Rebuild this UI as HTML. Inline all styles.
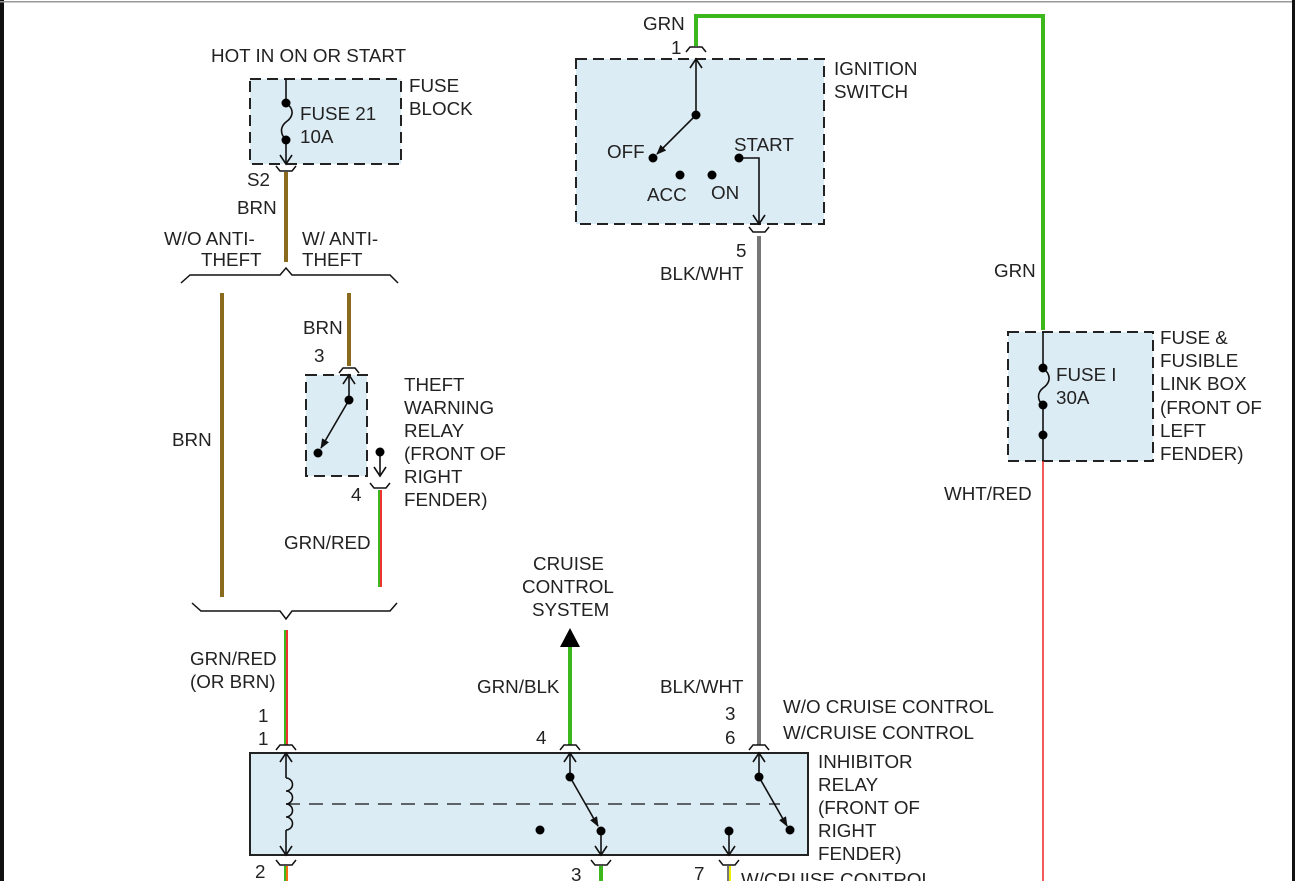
<!DOCTYPE html>
<html><head><meta charset="utf-8"><style>
html,body{margin:0;padding:0;background:#fff;width:1295px;height:881px;overflow:hidden}
svg{display:block}
text{font-family:"Liberation Sans",Arial,sans-serif;font-size:18.8px;fill:#222}
</style></head><body>
<svg width="1295" height="881" viewBox="0 0 1295 881">
<defs>
<marker id="ah" markerWidth="10" markerHeight="10" refX="9" refY="5" orient="auto" markerUnits="userSpaceOnUse"><path d="M0,1 L10,5 L0,9 Z" fill="#111"/></marker>
</defs>
<rect x="0" y="0" width="4" height="881" fill="#111"/>
<rect x="0" y="1" width="1295" height="1.5" fill="#999"/>
<rect x="1292" y="0" width="3" height="881" fill="#111"/>

<g fill="#dcecf4" stroke="#222" stroke-width="2" stroke-dasharray="11,6">
<rect x="250" y="79" width="151" height="85"/>
<rect x="576" y="59" width="248" height="165"/>
<rect x="306" y="375" width="61" height="101"/>
<rect x="1008" y="332" width="145" height="129"/>
</g>
<rect x="250" y="753" width="558" height="102" fill="#dcecf4" stroke="#222" stroke-width="2"/>

<g fill="none" stroke-width="4">
<line x1="286" y1="172" x2="286" y2="262" stroke="#8a6a1c"/>
<line x1="222" y1="293" x2="222" y2="597" stroke="#8a6a1c"/>
<line x1="349" y1="293" x2="349" y2="366" stroke="#8a6a1c"/>
<polyline points="696,46 696,16 1043,16 1043,330" stroke="#3cb81c"/>
<line x1="759" y1="236" x2="759" y2="745" stroke="#777"/>
<line x1="570" y1="645" x2="570" y2="745" stroke="#3cb81c"/>
<line x1="601" y1="866" x2="601" y2="881" stroke="#3cb81c"/>
</g>
<g stroke-width="2">
<line x1="379" y1="490" x2="379" y2="587" stroke="#3cb81c"/>
<line x1="381" y1="490" x2="381" y2="587" stroke="#e33"/>
<line x1="285" y1="630" x2="285" y2="745" stroke="#3cb81c"/>
<line x1="287" y1="630" x2="287" y2="745" stroke="#e33"/>
<line x1="285" y1="866" x2="285" y2="881" stroke="#3cb81c"/>
<line x1="287" y1="866" x2="287" y2="881" stroke="#f07010"/>
<line x1="728" y1="866" x2="728" y2="881" stroke="#777"/>
<line x1="730" y1="866" x2="730" y2="881" stroke="#ee0"/>
</g>
<line x1="1043" y1="461" x2="1043" y2="881" stroke="#e22" stroke-width="1.5"/>

<g fill="none" stroke="#111" stroke-width="1.5">
<polyline points="181,283 190,275 280,275 286,268 292,275 390,275 398,283"/>
<polyline points="192,603 201,611 280,611 286,619 292,611 390,611 397,603"/>
</g>

<g stroke="#111" stroke-width="1.6" fill="none">
<line x1="286" y1="79" x2="286" y2="103"/>
<path d="M286,103 C296,110 292,118 286,122 C280,127 280,134 286,140"/>
<line x1="286" y1="140" x2="286" y2="164"/>
<polyline points="280,155 286,164 292,155"/>
<line x1="696" y1="59" x2="696" y2="115"/>
<polyline points="690,68 696,59 702,68"/>
<line x1="696" y1="115" x2="657" y2="154" marker-end="url(#ah)"/>
<polyline points="739,158 759,158 759,224"/>
<polyline points="753,215 759,224 765,215"/>
<line x1="349" y1="375" x2="349" y2="400"/>
<polyline points="343,384 349,375 355,384"/>
<line x1="349" y1="400" x2="321" y2="448" marker-end="url(#ah)"/>
<line x1="380" y1="452" x2="380" y2="476"/>
<polyline points="374,467 380,476 386,467"/>
<line x1="1043" y1="332" x2="1043" y2="368"/>
<path d="M1043,368 C1053,376 1049,384 1043,388 C1037,393 1037,400 1043,405"/>
<line x1="1043" y1="405" x2="1043" y2="461"/>
<line x1="286" y1="753" x2="286" y2="778"/>
<polyline points="280,762 286,753 292,762"/>
<path d="M286,778 a6,6 0 0 1 0,13 a6,6 0 0 1 0,13 a6,6 0 0 1 0,13 a6,6 0 0 1 0,13"/>
<line x1="286" y1="830" x2="286" y2="855"/>
<polyline points="280,846 286,855 292,846"/>
<line x1="570" y1="753" x2="570" y2="777"/>
<polyline points="564,762 570,753 576,762"/>
<line x1="570" y1="777" x2="598" y2="826" marker-end="url(#ah)"/>
<line x1="601" y1="830" x2="601" y2="855"/>
<polyline points="595,846 601,855 607,846"/>
<line x1="759" y1="753" x2="759" y2="777"/>
<polyline points="753,762 759,753 765,762"/>
<line x1="759" y1="777" x2="787" y2="826" marker-end="url(#ah)"/>
<line x1="729" y1="830" x2="729" y2="855"/>
<polyline points="723,846 729,855 735,846"/>
</g>
<line x1="286" y1="804" x2="780" y2="804" stroke="#111" stroke-width="1.3" stroke-dasharray="14,9"/>

<g fill="none" stroke="#111" stroke-width="1.5">
<polyline points="686,52 690,47 702,47 706,52"/>
<polyline points="339,373 343,368 355,368 359,373"/>
<polyline points="276,750 280,745 292,745 296,750"/>
<polyline points="560,750 564,745 576,745 580,750"/>
<polyline points="749,750 753,745 765,745 769,750"/>
<polyline points="276,166 280,171 292,171 296,166"/>
<polyline points="749,227 753,232 765,232 769,227"/>
<polyline points="370,483 374,488 386,488 390,483"/>
<polyline points="276,860 280,865 292,865 296,860"/>
<polyline points="591,860 595,865 607,865 611,860"/>
<polyline points="719,860 723,865 735,865 739,860"/>
</g>
<polygon points="570,628 560,647 580,647" fill="#000"/>

<g fill="#000">
<circle cx="286" cy="103" r="4.5"/><circle cx="286" cy="140" r="4.5"/>
<circle cx="696" cy="115" r="4.5"/><circle cx="653" cy="158" r="4.5"/>
<circle cx="680" cy="175" r="4.5"/><circle cx="712" cy="175" r="4.5"/><circle cx="739" cy="158" r="4.5"/>
<circle cx="349" cy="400" r="4.5"/><circle cx="318" cy="453" r="4.5"/><circle cx="380" cy="452" r="4.5"/>
<circle cx="1043" cy="368" r="4.5"/><circle cx="1043" cy="405" r="4.5"/><circle cx="1043" cy="435" r="4.5"/>
<circle cx="570" cy="777" r="4.5"/><circle cx="601" cy="831" r="4.5"/><circle cx="540" cy="830" r="4.5"/>
<circle cx="759" cy="777" r="4.5"/><circle cx="790" cy="830" r="4.5"/><circle cx="729" cy="831" r="4.5"/>
</g>

<text x="211" y="62">HOT IN ON OR START</text>
<text x="409" y="92">FUSE</text><text x="409" y="115">BLOCK</text>
<text x="300" y="120">FUSE 21</text><text x="300" y="143">10A</text>
<text x="247" y="186">S2</text>
<text x="237" y="214">BRN</text>
<text x="164" y="245">W/O ANTI-</text><text x="201" y="266">THEFT</text>
<text x="302" y="245">W/ ANTI-</text><text x="302" y="266">THEFT</text>
<text x="172" y="446">BRN</text>
<text x="303" y="334">BRN</text>
<text x="314" y="362">3</text>
<text x="404" y="391">THEFT</text><text x="404" y="414">WARNING</text><text x="404" y="437">RELAY</text>
<text x="404" y="460">(FRONT OF</text><text x="404" y="483">RIGHT</text><text x="404" y="506">FENDER)</text>
<text x="351" y="501">4</text>
<text x="284" y="549">GRN/RED</text>
<text x="190" y="665">GRN/RED</text><text x="190" y="688">(OR BRN)</text>
<text x="258" y="722">1</text><text x="258" y="745">1</text>
<text x="533" y="570">CRUISE</text><text x="522" y="593">CONTROL</text><text x="532" y="616">SYSTEM</text>
<text x="477" y="693">GRN/BLK</text>
<text x="536" y="744">4</text>
<text x="660" y="693">BLK/WHT</text>
<text x="725" y="720">3</text><text x="725" y="744">6</text>
<text x="783" y="713">W/O CRUISE CONTROL</text>
<text x="783" y="739">W/CRUISE CONTROL</text>
<text x="818" y="768">INHIBITOR</text><text x="818" y="791">RELAY</text><text x="818" y="814">(FRONT OF</text>
<text x="818" y="837">RIGHT</text><text x="818" y="860">FENDER)</text>
<text x="255" y="878">2</text><text x="571" y="881">3</text><text x="694" y="880">7</text>
<text x="741" y="886">W/CRUISE CONTROL</text>
<text x="643" y="30">GRN</text>
<text x="671" y="54">1</text>
<text x="834" y="75">IGNITION</text><text x="834" y="98">SWITCH</text>
<text x="607" y="158">OFF</text><text x="734" y="151">START</text>
<text x="647" y="201">ACC</text><text x="711" y="199">ON</text>
<text x="736" y="257">5</text>
<text x="660" y="280">BLK/WHT</text>
<text x="994" y="277">GRN</text>
<text x="1056" y="381">FUSE I</text><text x="1056" y="404">30A</text>
<text x="1160" y="344">FUSE &amp;</text><text x="1160" y="367">FUSIBLE</text><text x="1160" y="390">LINK BOX</text>
<text x="1160" y="414">(FRONT OF</text><text x="1160" y="437">LEFT</text><text x="1160" y="460">FENDER)</text>
<text x="944" y="500">WHT/RED</text>
</svg>
</body></html>
